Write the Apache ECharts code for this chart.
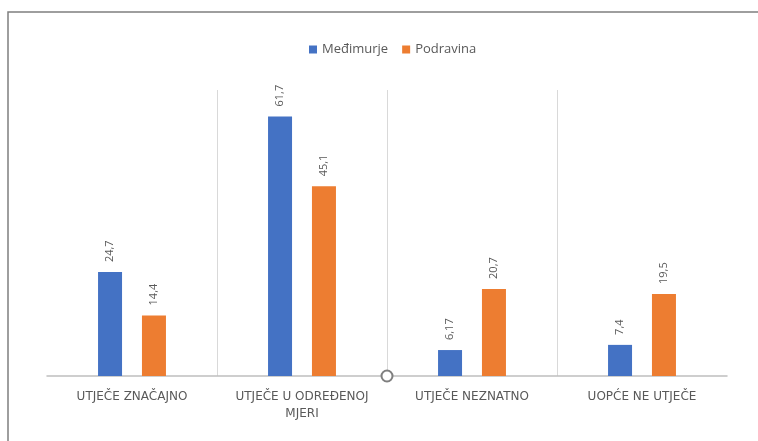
<!DOCTYPE html>
<html>
<head>
<meta charset="utf-8">
<script src="https://cdn.jsdelivr.net/npm/echarts@6/dist/echarts.min.js"></script>
<style>
  html, body { margin: 0; padding: 0; background: #fff; }
  #chart-container { width: 758px; height: 441px; }
</style>
</head>
<body>
<div id="chart-container"></div>
<script>
var categories = ['UTJEČE ZNAČAJNO', 'UTJEČE U ODREĐENOJ\nMJERI', 'UTJEČE NEZNATNO', 'UOPĆE NE UTJEČE'];
var seriesNames = ['Međimurje', 'Podravina'];
var medimurje = [24.7, 61.7, 6.17, 7.4];
var podravina = [14.4, 45.1, 20.7, 19.5];

var dom = document.getElementById('chart-container');
var myChart = echarts.init(dom, null, { renderer: 'canvas' });

function fmt(p) {
  return String(p.value).replace('.', ',');
}

var labelStyle = {
  show: true,
  position: 'top',
  rotate: 90,
  align: 'left',
  verticalAlign: 'middle',
  distance: 8,
  color: '#595959',
  fontSize: 11,
  fontFamily: 'Open Sans',
  backgroundColor: '#fff',
  padding: [2, 2],
  formatter: fmt
};

var frame = {
  type: 'rect',
  shape: { x: 8, y: 12, width: 800, height: 500 },
  style: { fill: null, stroke: '#7f7f7f', lineWidth: 1.5 },
  silent: true
};

var option = {
  animation: false,
  color: ['#4472C4', '#ED7D31'],
  legend: {
    top: 38,
    left: 304,
    itemWidth: 8,
    itemHeight: 8,
    itemGap: 14,
    icon: 'rect',
    textStyle: { color: '#595959', fontSize: 13, fontFamily: 'Open Sans' },
    data: seriesNames
  },
  grid: { left: 47, right: 31, top: 90, bottom: 65 },
  xAxis: {
    type: 'category',
    data: categories,
    axisLine: { lineStyle: { color: '#bfbfbf', width: 1.5 } },
    axisTick: { show: false },
    axisLabel: {
      color: '#595959',
      fontSize: 12,
      fontFamily: 'DejaVu Sans',
      margin: 12,
      lineHeight: 17,
      interval: 0
    },
    splitLine: {
      show: true,
      showMinLine: false,
      showMaxLine: false,
      lineStyle: { color: '#d9d9d9', width: 1 }
    }
  },
  yAxis: {
    type: 'value',
    min: 0,
    max: 68,
    show: false,
    splitLine: { show: false }
  },
  series: [
    {
      name: seriesNames[0],
      type: 'bar',
      data: medimurje,
      barWidth: 24,
      barGap: '83%',
      label: labelStyle
    },
    {
      name: seriesNames[1],
      type: 'bar',
      data: podravina,
      barWidth: 24,
      label: labelStyle
    }
  ],
  graphic: [frame]
};

myChart.setOption(option);

// small handle circle on the axis between 2nd and 3rd category
var p1 = myChart.convertToPixel({ gridIndex: 0 }, [1, 0]);
var p2 = myChart.convertToPixel({ gridIndex: 0 }, [2, 0]);
myChart.setOption({
  graphic: [
    frame,
    {
      type: 'circle',
      shape: { cx: (p1[0] + p2[0]) / 2, cy: p1[1], r: 5.5 },
      style: { fill: '#fff', stroke: '#7f7f7f', lineWidth: 2 },
      z: 100,
      silent: true
    }
  ]
});

window.addEventListener('resize', myChart.resize);
</script>
</body>
</html>
